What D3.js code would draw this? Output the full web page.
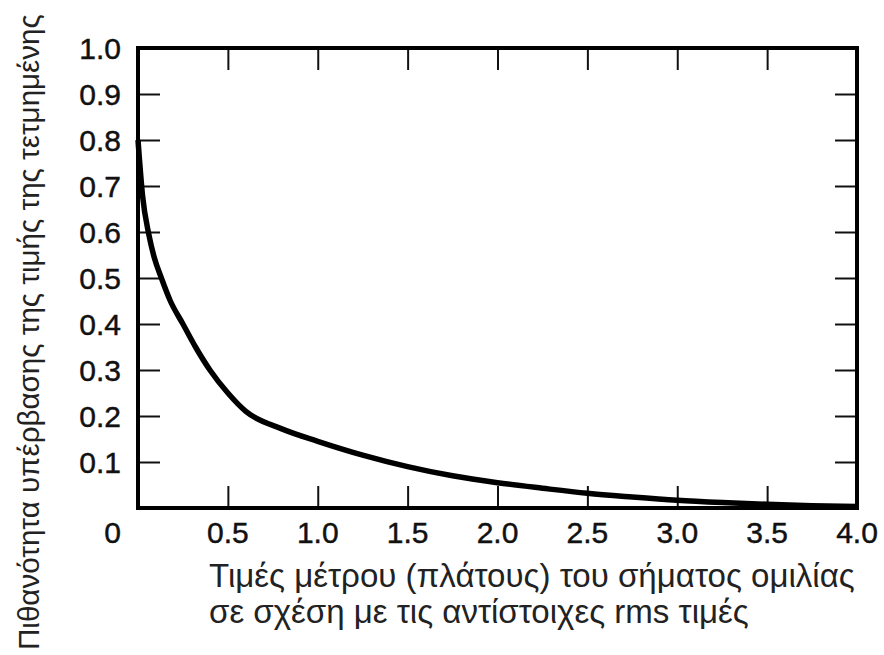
<!DOCTYPE html>
<html><head><meta charset="utf-8">
<script src="https://cdn.jsdelivr.net/npm/d3@7"></script>
<style>
html,body{margin:0;padding:0;background:#fff;}
svg{display:block;}
</style></head>
<body>
<svg id="chart" width="884" height="655"></svg>
<script>
// ---- data ----
const amplitude = [0, 0.025, 0.06, 0.09, 0.13, 0.18, 0.25, 0.32, 0.4, 0.5, 0.6, 0.8, 1.0, 1.25, 1.5, 1.75, 2.0, 2.25, 2.5, 2.75, 3.0, 3.25, 3.5, 3.75, 4.0];
const probability = [0.80, 0.68, 0.595, 0.545, 0.50, 0.45, 0.40, 0.35, 0.30, 0.25, 0.21, 0.172, 0.145, 0.115, 0.09, 0.07, 0.055, 0.043, 0.032, 0.024, 0.017, 0.012, 0.008, 0.005, 0.003];
const xTickValues = [0.5, 1.0, 1.5, 2.0, 2.5, 3.0, 3.5, 4.0];
const xTickLabels = ["0.5", "1.0", "1.5", "2.0", "2.5", "3.0", "3.5", "4.0"];
const yTickValues = [0.1, 0.2, 0.3, 0.4, 0.5, 0.6, 0.7, 0.8, 0.9, 1.0];
const yTickLabels = ["0.1", "0.2", "0.3", "0.4", "0.5", "0.6", "0.7", "0.8", "0.9", "1.0"];
const originLabel = "0";
const yTitle = "Πιθανότητα υπέρβασης της τιμής της τετμημένης";
const xTitleLines = ["Τιμές μέτρου (πλάτους) του σήματος ομιλίας", "σε σχέση με τις αντίστοιχες rms τιμές"];

// ---- layout ----
const svg = d3.select("#chart");
const x = d3.scaleLinear().domain([0, 4]).range([138, 857]);
const y = d3.scaleLinear().domain([0, 1]).range([508, 48]);
const font = "'Liberation Sans', Arial, Helvetica, sans-serif";
const ink = "#111";

const tickLen = 22;
const innerX = xTickValues.filter(v => v < 4);
const innerY = yTickValues.filter(v => v < 1);

svg.append("g").attr("transform", `translate(0,${y(0)})`)
  .call(d3.axisTop(x).tickValues(innerX).tickSize(tickLen).tickFormat(""))
  .call(g => g.select(".domain").remove())
  .call(g => g.selectAll("line").attr("stroke", ink).attr("stroke-width", 2));
svg.append("g").attr("transform", `translate(0,${y(1)})`)
  .call(d3.axisBottom(x).tickValues(innerX).tickSize(tickLen).tickFormat(""))
  .call(g => g.select(".domain").remove())
  .call(g => g.selectAll("line").attr("stroke", ink).attr("stroke-width", 2));
svg.append("g").attr("transform", `translate(${x(0)},0)`)
  .call(d3.axisRight(y).tickValues(innerY).tickSize(tickLen).tickFormat(""))
  .call(g => g.select(".domain").remove())
  .call(g => g.selectAll("line").attr("stroke", ink).attr("stroke-width", 2));
svg.append("g").attr("transform", `translate(${x(4)},0)`)
  .call(d3.axisLeft(y).tickValues(innerY).tickSize(tickLen).tickFormat(""))
  .call(g => g.select(".domain").remove())
  .call(g => g.selectAll("line").attr("stroke", ink).attr("stroke-width", 2));

// curve
const pts = amplitude.map((a, i) => [a, probability[i]]);
svg.append("path")
  .datum(pts)
  .attr("fill", "none")
  .attr("stroke", "#000")
  .attr("stroke-width", 5.5)
  .attr("stroke-linejoin", "round")
  .attr("d", d3.line().x(d => x(d[0])).y(d => y(d[1])).curve(d3.curveMonotoneX));

// frame
svg.append("rect")
  .attr("x", x(0)).attr("y", y(1))
  .attr("width", x(4) - x(0)).attr("height", y(0) - y(1))
  .attr("fill", "none").attr("stroke", "#000").attr("stroke-width", 4);

// tick labels
const labelStyle = sel => sel.attr("font-family", font).attr("font-size", 30)
  .attr("fill", ink).attr("stroke", ink).attr("stroke-width", 0.45);

svg.append("g").selectAll("text").data(yTickValues).join("text")
  .attr("x", 121).attr("y", d => y(d)).attr("dy", "0.36em")
  .attr("text-anchor", "end")
  .text((d, i) => yTickLabels[i]).call(labelStyle);

svg.append("g").selectAll("text").data(xTickValues).join("text")
  .attr("x", d => x(d)).attr("y", 543)
  .attr("text-anchor", "middle")
  .text((d, i) => xTickLabels[i]).call(labelStyle);

svg.append("text").attr("x", 121).attr("y", 543).attr("text-anchor", "end")
  .text(originLabel).call(labelStyle);

// axis titles
const xt = svg.append("g");
xTitleLines.forEach((t, i) => {
  xt.append("text").attr("x", 209).attr("y", 587 + i * 36)
    .attr("font-family", font).attr("font-size", 25).attr("fill", "#222")
    .text(t);
});
const first = xt.select("text").node();
const w = first.getComputedTextLength();
xt.selectAll("text").attr("font-size", 25 * 646 / w);

const yt = svg.append("text")
  .attr("transform", "translate(39,650) rotate(-90)")
  .attr("font-family", font).attr("font-size", 25).attr("fill", "#222")
  .text(yTitle);
const yw = yt.node().getComputedTextLength();
yt.attr("font-size", 25 * 636 / yw);
</script>
</body></html>
